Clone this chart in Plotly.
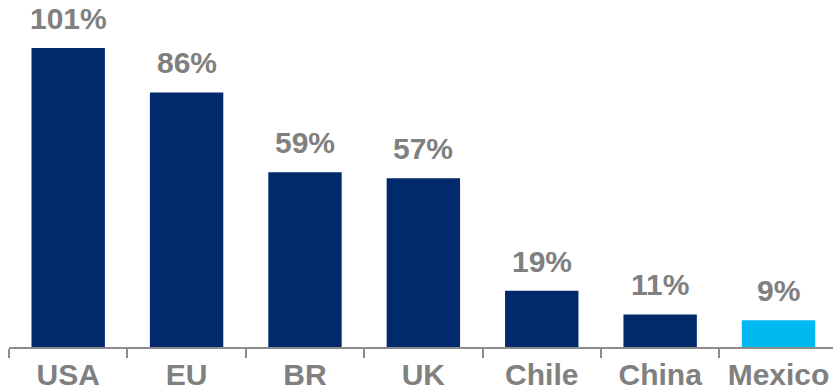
import plotly.graph_objects as go

categories = ["USA", "EU", "BR", "UK", "Chile", "China", "Mexico"]
values = [101, 86, 59, 57, 19, 11, 9]
labels = ["101%", "86%", "59%", "57%", "19%", "11%", "9%"]
colors = ["#002A6C"] * 6 + ["#00B9F1"]

fig = go.Figure()
fig.add_trace(go.Bar(
    x=categories, y=values, marker=dict(color=colors, line=dict(width=0)),
    width=0.62, hoverinfo="skip",
))
for c, v, t in zip(categories, values, labels):
    fig.add_annotation(x=c, y=v, text=t, showarrow=False, yanchor="bottom",
                       yshift=11, font=dict(family="Liberation Sans, Arial", size=30,
                                            color="#808080", weight="bold"))

fig.update_layout(
    width=833, height=392,
    margin=dict(l=9, r=0, t=0, b=45, autoexpand=False),
    plot_bgcolor="white", paper_bgcolor="white",
    showlegend=False,
    font=dict(family="Liberation Sans, Arial"),
)
fig.update_xaxes(
    range=[-0.5, 6.46], showline=True, linecolor="#8C8C8C", linewidth=2,
    ticks="outside", tickson="boundaries", ticklen=9, tickwidth=2, tickcolor="#8C8C8C",
    tickfont=dict(family="Liberation Sans, Arial", size=30, color="#808080", weight="bold"),
    showgrid=False, zeroline=False, automargin=False,
)
fig.update_yaxes(range=[0, 117.2], visible=False, showgrid=False, zeroline=False, automargin=False)

fig.write_html("out.html", config={"displayModeBar": False},
               post_script="document.body.style.margin='0';document.body.style.overflow='hidden';")
